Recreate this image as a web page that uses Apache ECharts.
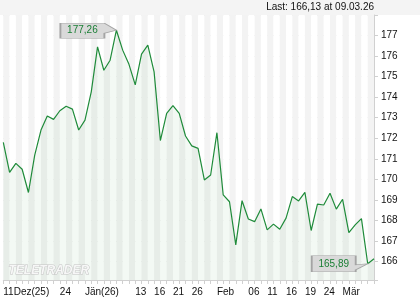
<!DOCTYPE html>
<html><head><meta charset="utf-8">
<script src="https://cdn.jsdelivr.net/npm/echarts@6/dist/echarts.min.js"></script>
<style>html,body{margin:0;padding:0;background:#fff}#c{width:420px;height:300px}</style>
</head><body><div id="c"></div>
<script>
const dates = ['2025-12-11','2025-12-12','2025-12-15','2025-12-16','2025-12-17','2025-12-18','2025-12-19','2025-12-22','2025-12-23','2025-12-24','2025-12-29','2025-12-30','2025-12-31','2026-01-02','2026-01-05','2026-01-06','2026-01-07','2026-01-08','2026-01-09','2026-01-12','2026-01-13','2026-01-14','2026-01-15','2026-01-16','2026-01-19','2026-01-20','2026-01-21','2026-01-22','2026-01-23','2026-01-26','2026-01-27','2026-01-28','2026-01-29','2026-01-30','2026-02-02','2026-02-03','2026-02-04','2026-02-05','2026-02-06','2026-02-09','2026-02-10','2026-02-11','2026-02-12','2026-02-13','2026-02-16','2026-02-17','2026-02-18','2026-02-19','2026-02-20','2026-02-23','2026-02-24','2026-02-25','2026-02-26','2026-02-27','2026-03-02','2026-03-03','2026-03-04','2026-03-05','2026-03-06','2026-03-09'];
const prices = [171.80,170.34,170.78,170.49,169.36,171.18,172.40,173.08,172.92,173.34,
173.56,173.42,172.40,172.88,174.26,176.45,175.31,175.80,177.26,176.29,
175.60,174.60,176.10,176.53,175.23,171.89,173.21,173.59,173.21,172.11,
171.63,171.51,169.97,170.21,172.27,169.24,168.91,166.81,168.96,168.07,
167.94,168.56,167.54,167.82,167.57,168.11,169.16,168.95,169.37,167.51,
168.79,168.75,169.32,168.55,169.03,167.41,167.78,168.09,165.89,166.13];
const tickLabelIndex = [0, 9, 13, 21, 24, 27, 30, 34, 39, 42, 45, 48, 51, 54];
const tickLabelText = ['11Dez(25)','24','Jän(26)','13','16','21','26','Feb','06','11','16','19','24','Mär'];
const yTicks = [166,167,168,169,170,171,172,173,174,175,176,177];
const lastText = 'Last: 166,13 at 09.03.26';

const labelMap = {};
tickLabelIndex.forEach((k, i) => { labelMap[k] = tickLabelText[i]; });
const fmt = v => v.toFixed(2).replace('.', ',');
const FONT = 'Arial, "Liberation Sans", sans-serif';

const chart = echarts.init(document.getElementById('c'), null, {renderer: 'canvas'});
chart.setOption({
  animation: false,
  backgroundColor: '#fff',
  graphic: [
    {type: 'rect', left: 0, top: 0, z: -10, shape: {width: 420, height: 15}, style: {fill: '#f4f4f4'}},
    {type: 'text', right: 46, top: 2, z: 10, style: {text: lastText, fill: '#111', font: '10px ' + FONT}},
    {type: 'text', left: 8, top: 264, z: 10, style: {text: 'TELETRADER', fill: '#f7f7f7', stroke: '#c4c4c4', lineWidth: 1, font: 'italic bold 12px ' + FONT}}
  ],
  grid: {left: 3.3, right: 46, top: 15, bottom: 20},
  xAxis: {
    type: 'category', data: dates, boundaryGap: false,
    axisLine: {show: true, lineStyle: {color: '#d0d0d0'}},
    axisTick: {show: true, interval: 0, length: 4, lineStyle: {color: '#d0d0d0'}},
    axisLabel: {
      interval: (i) => labelMap[i] !== undefined,
      formatter: (v, i) => labelMap[i] || '',
      align: 'left', margin: 7, color: '#111', fontSize: 10, fontFamily: FONT
    },
    splitLine: {show: false},
    splitArea: {show: true, interval: 0, areaStyle: {color: ['#f3f3f3', '#ffffff']}}
  },
  yAxis: {
    type: 'value', position: 'right', min: 165.1, max: 178, splitNumber: 13,
    axisLine: {show: true, lineStyle: {color: '#d0d0d0'}},
    axisTick: {show: true, length: 4, lineStyle: {color: '#d0d0d0'}},
    axisLabel: {margin: 7, color: '#111', fontSize: 10, fontFamily: FONT,
      formatter: v => yTicks.indexOf(Math.round(v*100)/100) >= 0 ? String(v) : ''},
    splitLine: {show: true, lineStyle: {color: '#e2e2e2', width: 1}}
  },
  series: [{
    type: 'line', data: prices, symbol: 'none', smooth: false,
    lineStyle: {color: '#1f8b3a', width: 1.2},
    areaStyle: {color: 'rgba(34,139,59,0.08)', origin: 'start'},
    markPoint: {
      symbolKeepAspect: false,
      data: [
        {type: 'max', symbol: 'path://M0,0 L44,0 L56,7 L44,10 L44,15 L0,15 Z', symbolSize: [56, 15], symbolOffset: [-28, 0.5],
          label: {offset: [-6, 0]}},
        {type: 'min', symbol: 'path://M0,0 L44,0 L44,9 L56,8 L44,14 L44,16 L0,16 Z', symbolSize: [56, 16], symbolOffset: [-28, 0],
          label: {offset: [-6, 0]}}
      ],
      itemStyle: {color: '#d9d9d9', borderColor: '#a4a4a4', borderWidth: 1},
      label: {show: true, position: 'inside', color: '#1a7f35', fontSize: 10, fontFamily: FONT,
        formatter: p => fmt(p.value)}
    }
  }]
});
</script></body></html>
